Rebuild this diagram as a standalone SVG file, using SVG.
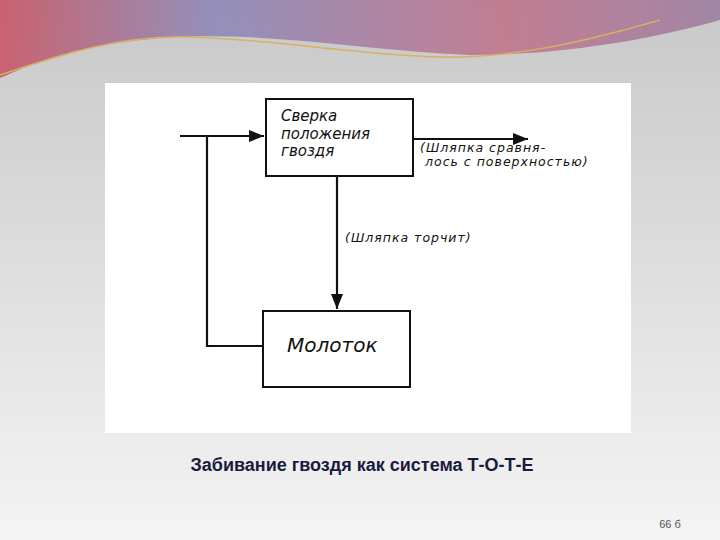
<svg xmlns="http://www.w3.org/2000/svg" width="720" height="540" viewBox="0 0 720 540">
<defs>
<linearGradient id="bg" x1="0" y1="0" x2="0" y2="1"><stop offset="0" stop-color="#c8c8c8"/><stop offset="1" stop-color="#f4f4f4"/></linearGradient>
<linearGradient id="top" x1="0" y1="0" x2="1" y2="0"><stop offset="0" stop-color="#c85060"/><stop offset="0.3" stop-color="#8a86b8"/><stop offset="0.7" stop-color="#c07088"/><stop offset="1" stop-color="#9a7aa0"/></linearGradient>
<marker id="ah" viewBox="0 0 10 10" refX="10" refY="5" markerWidth="7" markerHeight="7" orient="auto"><path d="M0,1 L10,5 L0,9 z" fill="#111"/></marker>
<style>.b{fill:#fff;stroke:#111;stroke-width:2}.t{font-family:"DejaVu Sans",sans-serif;font-style:italic;fill:#111}.l{fill:none;stroke:#111;stroke-width:2.2}</style>
</defs>
<rect width="720" height="540" fill="url(#bg)"/>
<path d="M0,0 H720 V20 C650,40 560,55 470,55 C360,50 260,30 160,38 C80,45 40,60 0,78 Z" fill="url(#top)" opacity="0.85"/>
<path d="M0,75 C60,55 120,35 190,37 C280,40 360,55 440,57 C520,58 590,40 660,20" fill="none" stroke="#d8b060" stroke-width="1.5"/>
<rect x="105" y="83" width="526" height="350" fill="#fff"/>
<g id="n1"><rect class="b" x="266" y="99" width="147" height="77"/><text class="t" font-size="15"><tspan x="281" y="121">Сверка</tspan><tspan x="281" y="139">положения</tspan><tspan x="281" y="156">гвоздя</tspan></text></g>
<g id="n2"><rect class="b" x="263" y="311" width="147" height="76"/><text class="t" x="287" y="352" font-size="20">Молоток</text></g>
<g id="connectors">
<path class="l" d="M180,136 H264" marker-end="url(#ah)"/>
<path class="l" d="M207,136 V346 H263"/>
<path class="l" d="M337,176 V309" marker-end="url(#ah)"/>
<path class="l" d="M413,139 H528" marker-end="url(#ah)"/>
</g>
<text class="t" font-size="12.5" letter-spacing="1"><tspan x="420" y="152">(Шляпка сравня-</tspan><tspan x="425" y="166">лось с поверхностью)</tspan></text>
<text class="t" x="345" y="242" font-size="12.5" letter-spacing="1">(Шляпка торчит)</text>
<text x="362" y="471" text-anchor="middle" font-family="Liberation Sans, sans-serif" font-weight="bold" font-size="18" fill="#1a1a40">Забивание гвоздя как система Т-О-Т-Е</text>
<text x="670" y="528" text-anchor="middle" font-family="Liberation Sans, sans-serif" font-size="11" fill="#555">66 б</text>
</svg>
